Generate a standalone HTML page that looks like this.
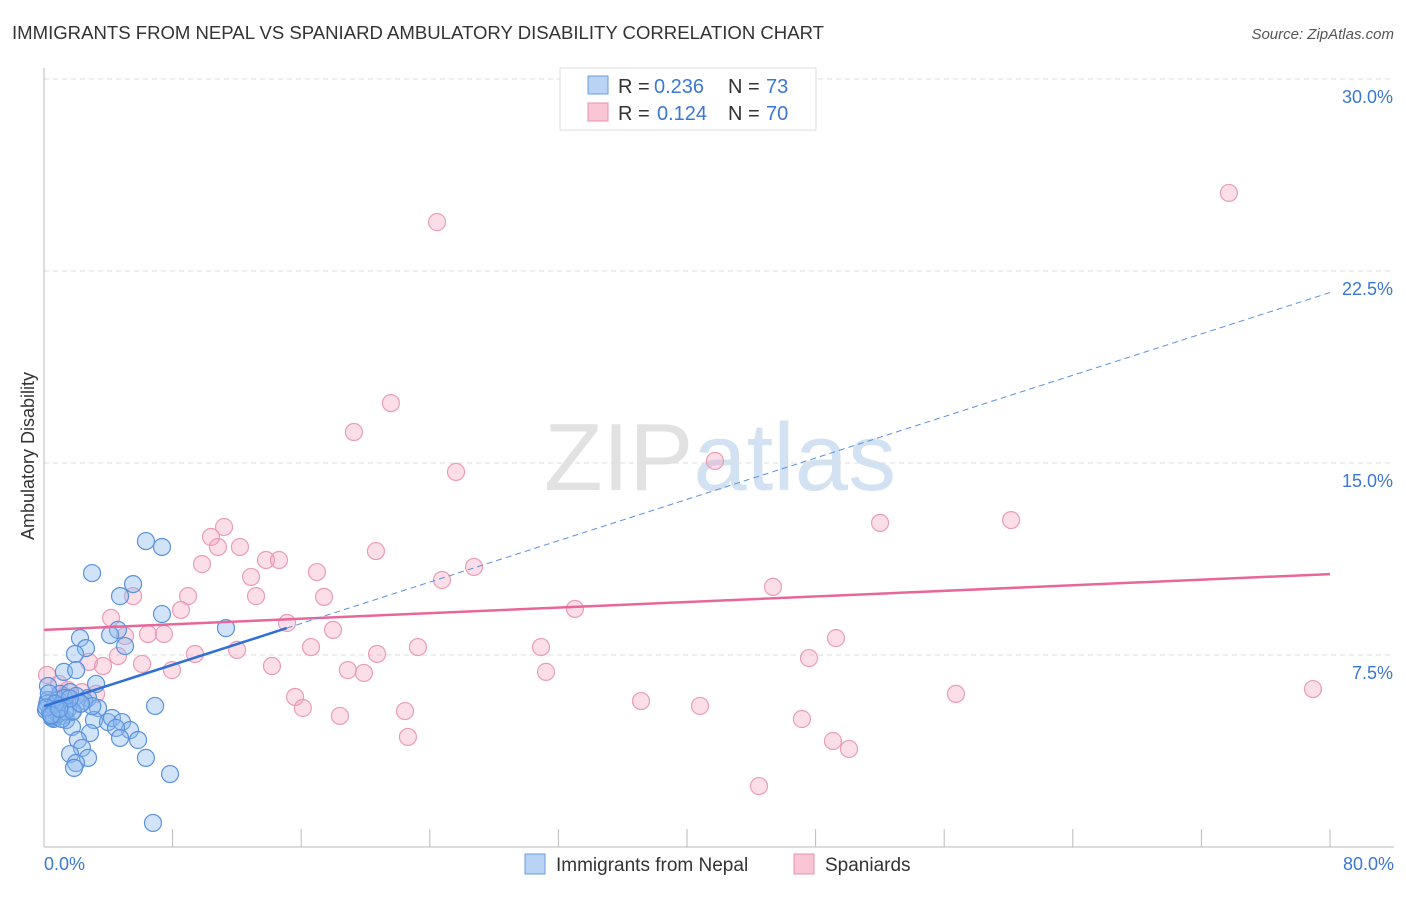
<!DOCTYPE html>
<html><head><meta charset="utf-8"><style>
body{margin:0;background:#fff;font-family:"Liberation Sans",sans-serif;}
svg text{font-family:"Liberation Sans",sans-serif;}
</style></head><body>
<svg id="chart" width="1406" height="892" xmlns="http://www.w3.org/2000/svg">
<text x="12" y="39" font-size="18" fill="#333" textLength="812" lengthAdjust="spacingAndGlyphs">IMMIGRANTS FROM NEPAL VS SPANIARD AMBULATORY DISABILITY CORRELATION CHART</text>
<text x="1394" y="39" font-size="15" fill="#555" font-style="italic" text-anchor="end">Source: ZipAtlas.com</text>
<text x="720" y="490" font-size="96" fill="#e2e2e2" text-anchor="middle" font-family="Liberation Serif">ZIP<tspan fill="#d3e2f2" font-family="Liberation Sans">atlas</tspan></text>
<text transform="translate(34,456) rotate(-90)" font-size="18" fill="#333" text-anchor="middle">Ambulatory Disability</text>
<g id="grid"></g><g id="axes"></g><g id="pts"></g><g id="trend"></g>
<g>
<rect x="560" y="68" width="256" height="62" fill="#fff" stroke="#ddd"/>
<rect x="588" y="76" width="20" height="18" fill="#b9d3f5" stroke="#6a9de0"/>
<rect x="588" y="103" width="20" height="18" fill="#f9c6d5" stroke="#e890ab"/>
<text x="618" y="93" font-size="20" fill="#333">R =</text>
<text x="654" y="93" font-size="20" fill="#3a78d4">0.236</text>
<text x="728" y="93" font-size="20" fill="#333">N =</text>
<text x="766" y="93" font-size="20" fill="#3a78d4">73</text>
<text x="618" y="120" font-size="20" fill="#333">R =</text>
<text x="657" y="120" font-size="20" fill="#3a78d4">0.124</text>
<text x="728" y="120" font-size="20" fill="#333">N =</text>
<text x="766" y="120" font-size="20" fill="#3a78d4">70</text>
</g>
<g>
<rect x="525" y="854" width="20" height="20" fill="#b9d3f5" stroke="#6a9de0"/>
<text x="556" y="871" font-size="19" fill="#333">Immigrants from Nepal</text>
<rect x="794" y="854" width="20" height="20" fill="#f9c6d5" stroke="#e890ab"/>
<text x="825" y="871" font-size="19" fill="#333">Spaniards</text>
</g>
</svg>
<script>
const yTicks=[7.5,15,22.5,30];
const yTickLabels=["7.5%","15.0%","22.5%","30.0%"];
const xTickVals=[8,16,24,32,40,48,56,64,72,80];
const nepalX=[6.34,7.34,2.99,5.54,4.73,7.34,11.32,4.60,4.11,2.24,2.61,5.04,1.93,1.24,2.00,3.24,0.25,1.00,1.62,2.74,2.24,0.68,3.36,6.91,0.37,1.12,1.74,0.50,1.37,3.11,3.98,4.23,4.85,1.74,5.35,4.48,2.86,4.73,5.85,2.11,2.36,1.62,2.74,6.34,1.99,1.87,7.84,6.78,0.25,0.87,1.24,0.12,0.75,1.0,0.4,0.6,1.5,2.0,0.2,0.9,1.3,0.5,2.5,3.0,0.3,1.1,0.7,1.8,0.15,0.45,2.3,1.6,0.95];
const nepalY=[11.95,11.72,10.70,10.27,9.80,9.10,8.55,8.48,8.28,8.16,7.77,7.85,7.54,6.84,6.91,6.37,6.29,5.98,6.05,5.82,5.59,5.51,5.43,5.51,5.27,5.12,5.27,5.04,4.96,4.96,4.88,5.04,4.88,4.69,4.57,4.65,4.45,4.26,4.18,4.18,3.87,3.63,3.48,3.48,3.28,3.09,2.85,0.94,5.74,5.74,5.82,5.35,5.35,5.51,5.2,5.0,5.4,5.9,5.6,5.2,5.3,5.1,5.7,5.5,6.0,5.0,5.6,5.3,5.45,5.15,5.6,5.8,5.4];
const spanX=[73.71,24.45,21.58,19.28,25.63,41.74,52.01,60.16,11.2,10.39,12.19,20.65,10.82,13.81,14.62,9.83,16.98,26.75,12.88,24.76,45.35,5.54,8.96,13.19,17.42,8.52,33.03,4.17,15.12,6.47,7.46,5.04,17.98,49.27,30.92,16.61,23.26,9.39,12.01,20.72,4.60,2.80,6.1,3.67,47.59,14.18,7.96,18.9,19.9,31.23,0.19,0.93,1.49,2.36,3.24,78.94,56.73,15.62,37.14,40.81,16.1,22.46,18.41,47.15,22.64,49.08,50.08,44.48,0.62,1.24];
const spanY=[25.55,24.41,17.34,16.21,14.65,15.08,12.66,12.77,12.5,12.11,11.72,11.56,11.72,11.21,11.21,11.05,10.74,10.94,10.55,10.43,10.16,9.80,9.80,9.80,9.77,9.26,9.30,8.95,8.75,8.32,8.32,8.24,8.48,8.16,7.81,7.81,7.81,7.54,7.70,7.54,7.46,7.23,7.15,7.07,7.38,7.07,6.91,6.91,6.8,6.84,6.72,6.37,6.13,6.05,5.98,6.17,5.98,5.86,5.70,5.51,5.43,5.31,5.12,5.00,4.30,4.14,3.83,2.38,5.74,5.90];
const nepalTrend=[5.5,0.202];
const spanTrend=[8.48,0.02725];
const X=v=>44+v*16.075, Y=v=>847-v*25.6;
const NS="http://www.w3.org/2000/svg";
function mk(t,a,p){const e=document.createElementNS(NS,t);for(const k in a)e.setAttribute(k,a[k]);p.appendChild(e);return e;}
const grid=document.getElementById('grid'),axes=document.getElementById('axes'),pts=document.getElementById('pts'),tr=document.getElementById('trend');
yTicks.forEach((v,i)=>{
 const l=mk('line',{x1:44,x2:1394,y1:Y(v),y2:Y(v),stroke:'#ddd','stroke-dasharray':'5,4'},grid);
 
 
 const t=mk('text',{x:1393,y:Y(v)+24,'font-size':18,fill:'#3a78d4','text-anchor':'end'},axes);
 t.textContent=yTickLabels[i];
 
 
});
const ya=mk('line',{x1:44,x2:44,y1:68,y2:847,stroke:'#bbb'},axes);


const xa=mk('line',{x1:44,x2:1394,y1:847,y2:847,stroke:'#bbb'},axes);


xTickVals.forEach(v=>{
 const l=mk('line',{x1:X(v),x2:X(v),y1:829,y2:847,stroke:'#bbb'},axes);
 
 
});
[["0.0%",44,'start'],["80.0%",1394,'end']].forEach(d=>{
 const t=mk('text',{x:d[1],y:870,'font-size':18,fill:'#3a78d4','text-anchor':d[2]},axes);
 t.textContent=d[0];
 
 
});
spanX.forEach((x,i)=>{
 const c=mk('circle',{cx:X(x),cy:Y(spanY[i]),r:8.5,fill:'rgba(244,160,188,0.35)',stroke:'#eb9cb6','stroke-width':1.2},pts);
 
 
});
nepalX.forEach((x,i)=>{
 const c=mk('circle',{cx:X(x),cy:Y(nepalY[i]),r:8.5,fill:'rgba(140,185,240,0.4)',stroke:'#5a92dc','stroke-width':1.2},pts);
 
 
});
const f=(t,x)=>t[0]+t[1]*x;
const a=mk('line',{x1:X(0),y1:Y(f(spanTrend,0)),x2:X(80),y2:Y(f(spanTrend,80)),stroke:'#e8679a','stroke-width':2.5},tr);


const b=mk('line',{x1:X(0),y1:Y(f(nepalTrend,0)),x2:X(15.1),y2:Y(f(nepalTrend,15.1)),stroke:'#2f6fd6','stroke-width':2.5},tr);


const c=mk('line',{x1:X(15.1),y1:Y(f(nepalTrend,15.1)),x2:X(80),y2:Y(f(nepalTrend,80)),stroke:'#5a92dc','stroke-width':1,'stroke-dasharray':'6,4'},tr);


</script>
</body></html>
